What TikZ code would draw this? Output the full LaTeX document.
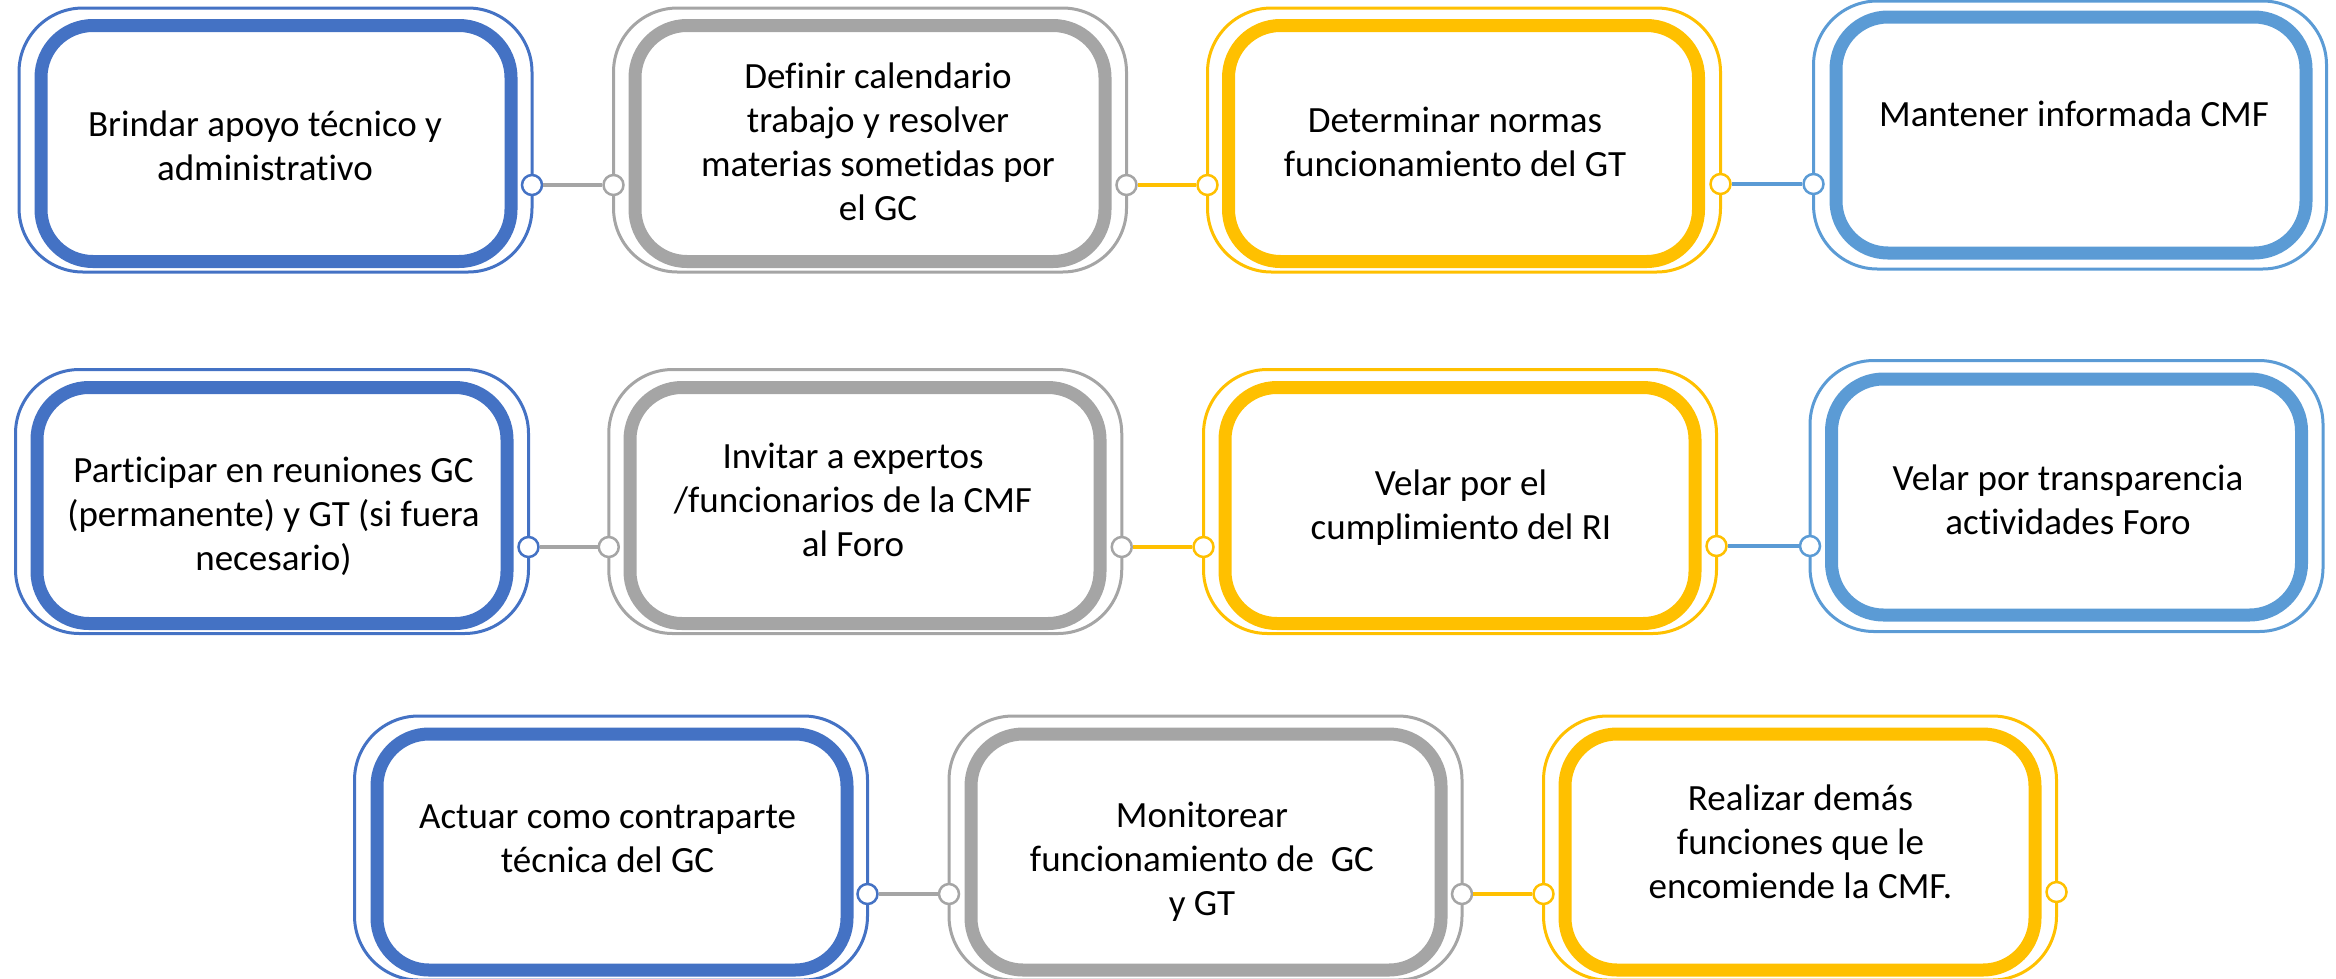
\documentclass[tikz,border=0pt]{standalone}
\usepackage{fontspec}
\setmainfont[Ligatures=NoCommon]{Carlito}
\definecolor{cBlue}{HTML}{4472C4}
\definecolor{cGray}{HTML}{A5A5A5}
\definecolor{cGold}{HTML}{FFC000}
\definecolor{cSky}{HTML}{5B9BD5}
\newcommand\txtlines[1]{\begin{tabular}[t]{@{}c@{}}#1\end{tabular}}
\tikzset{
  outerframe/.style={draw=#1, line width=3pt, rounded corners=64pt, minimum width=513pt, minimum height=264pt, inner sep=0pt, outer sep=0pt},
  thickframe/.style={draw=#1, line width=13pt, rounded corners=52pt, minimum width=470pt, minimum height=236pt, inner sep=0pt, outer sep=0pt},
  dot/.style={circle, draw=#1, fill=white, line width=2.5pt, minimum size=20pt, inner sep=0pt},
  link/.style={draw=#1, line width=3.5pt},
  boxtext/.style={anchor=base, inner sep=0pt, font=\fontsize{37}{44}\selectfont},
}
\begin{document}
\begin{tikzpicture}[x=1pt,y=-1pt]
\useasboundingbox (0,0) rectangle (2336,978);
\clip (0,0) rectangle (2336,978);
% ---------- row 1
\node[outerframe=cBlue] (b1) at (275.5,140) {};
\node[thickframe=cBlue] (b1i) at (276,143.5) {};
\node[outerframe=cGray] (b2) at (870,140) {};
\node[thickframe=cGray] (b2i) at (870,143.5) {};
\node[outerframe=cGold] (b3) at (1464,140) {};
\node[thickframe=cGold] (b3i) at (1463.5,143.5) {};
\node[outerframe=cSky, minimum height=268pt] (b4) at (2070,135) {};
\node[thickframe=cSky] (b4i) at (2071,135) {};
% ---------- row 2
\node[outerframe=cBlue] (b5) at (272,501.5) {};
\node[thickframe=cBlue] (b5i) at (272,505.5) {};
\node[outerframe=cGray] (b6) at (865.25,501.5) {};
\node[thickframe=cGray] (b6i) at (865,505.5) {};
\node[outerframe=cGold] (b7) at (1460,501.5) {};
\node[thickframe=cGold] (b7i) at (1460,505.5) {};
\node[outerframe=cSky, minimum height=271pt] (b8) at (2066.5,496) {};
\node[thickframe=cSky] (b8i) at (2066.5,497) {};
% ---------- row 3
\node[outerframe=cBlue] (b9) at (611,848) {};
\node[thickframe=cBlue] (b9i) at (612,852) {};
\node[outerframe=cGray] (b10) at (1205.5,848) {};
\node[thickframe=cGray] (b10i) at (1206,852) {};
\node[outerframe=cGold] (b11) at (1800,848) {};
\node[thickframe=cGold] (b11i) at (1800,852) {};
% ---------- texts
\node[boxtext] (t1) at (265,136) {\txtlines{Brindar apoyo técnico y\\administrativo}};
\node[boxtext] (t2) at (878,88.3) {\txtlines{Definir calendario\\trabajo y resolver\\materias sometidas por\\el GC}};
\node[boxtext] (t3) at (1455,132) {\txtlines{Determinar normas\\funcionamiento del GT}};
\node[boxtext] (t4) at (2074,126) {\txtlines{Mantener informada CMF}};
\node[boxtext] (t5) at (273.5,482) {\txtlines{Participar en reuniones GC\\(permanente) y GT (si fuera\\necesario)}};
\node[boxtext] (t6) at (853,468) {\txtlines{Invitar a expertos\\/funcionarios de la CMF\\al Foro}};
\node[boxtext] (t7) at (1461,495) {\txtlines{Velar por el\\cumplimiento del RI}};
\node[boxtext] (t8) at (2068,490) {\txtlines{Velar por transparencia\\actividades Foro}};
\node[boxtext] (t9) at (607.5,828) {\txtlines{Actuar como contraparte\\técnica del GC}};
\node[boxtext] (t10) at (1202,827.7) {\txtlines{Monitorear\\funcionamiento de\ \ GC\\y GT}};
\node[boxtext] (t11) at (1800.5,810.7) {\txtlines{Realizar demás\\funciones que le\\encomiende la CMF.}};
% ---------- connector dots
\node[dot=cBlue] (c1r) at (b1.east |- 0,185) {};
\node[dot=cGray] (c2l) at (b2.west |- 0,185) {};
\node[dot=cGray] (c2r) at (b2.east |- 0,185) {};
\node[dot=cGold] (c3l) at (b3.west |- 0,185) {};
\node[dot=cGold] (c3r) at (b3.east |- 0,184) {};
\node[dot=cSky]  (c4l) at (b4.west |- 0,184) {};
\node[dot=cBlue] (c5r) at (b5.east |- 0,547) {};
\node[dot=cGray] (c6l) at (b6.west |- 0,547) {};
\node[dot=cGray] (c6r) at (b6.east |- 0,547) {};
\node[dot=cGold] (c7l) at (b7.west |- 0,547) {};
\node[dot=cGold] (c7r) at (b7.east |- 0,546) {};
\node[dot=cSky]  (c8l) at (b8.west |- 0,546) {};
\node[dot=cBlue] (c9r) at (b9.east |- 0,894) {};
\node[dot=cGray] (c10l) at (b10.west |- 0,894) {};
\node[dot=cGray] (c10r) at (b10.east |- 0,894) {};
\node[dot=cGold] (c11l) at (b11.west |- 0,894) {};
\node[dot=cGold] (c11r) at (b11.east |- 0,892) {};
% ---------- connectors
\draw[link=cGray] (c1r) -- (c2l);
\draw[link=cGold] (c2r) -- (c3l);
\draw[link=cSky]  (c3r) -- (c4l);
\draw[link=cGray] (c5r) -- (c6l);
\draw[link=cGold] (c6r) -- (c7l);
\draw[link=cSky]  (c7r) -- (c8l);
\draw[link=cGray] (c9r) -- (c10l);
\draw[link=cGold] (c10r) -- (c11l);
\end{tikzpicture}
\end{document}
